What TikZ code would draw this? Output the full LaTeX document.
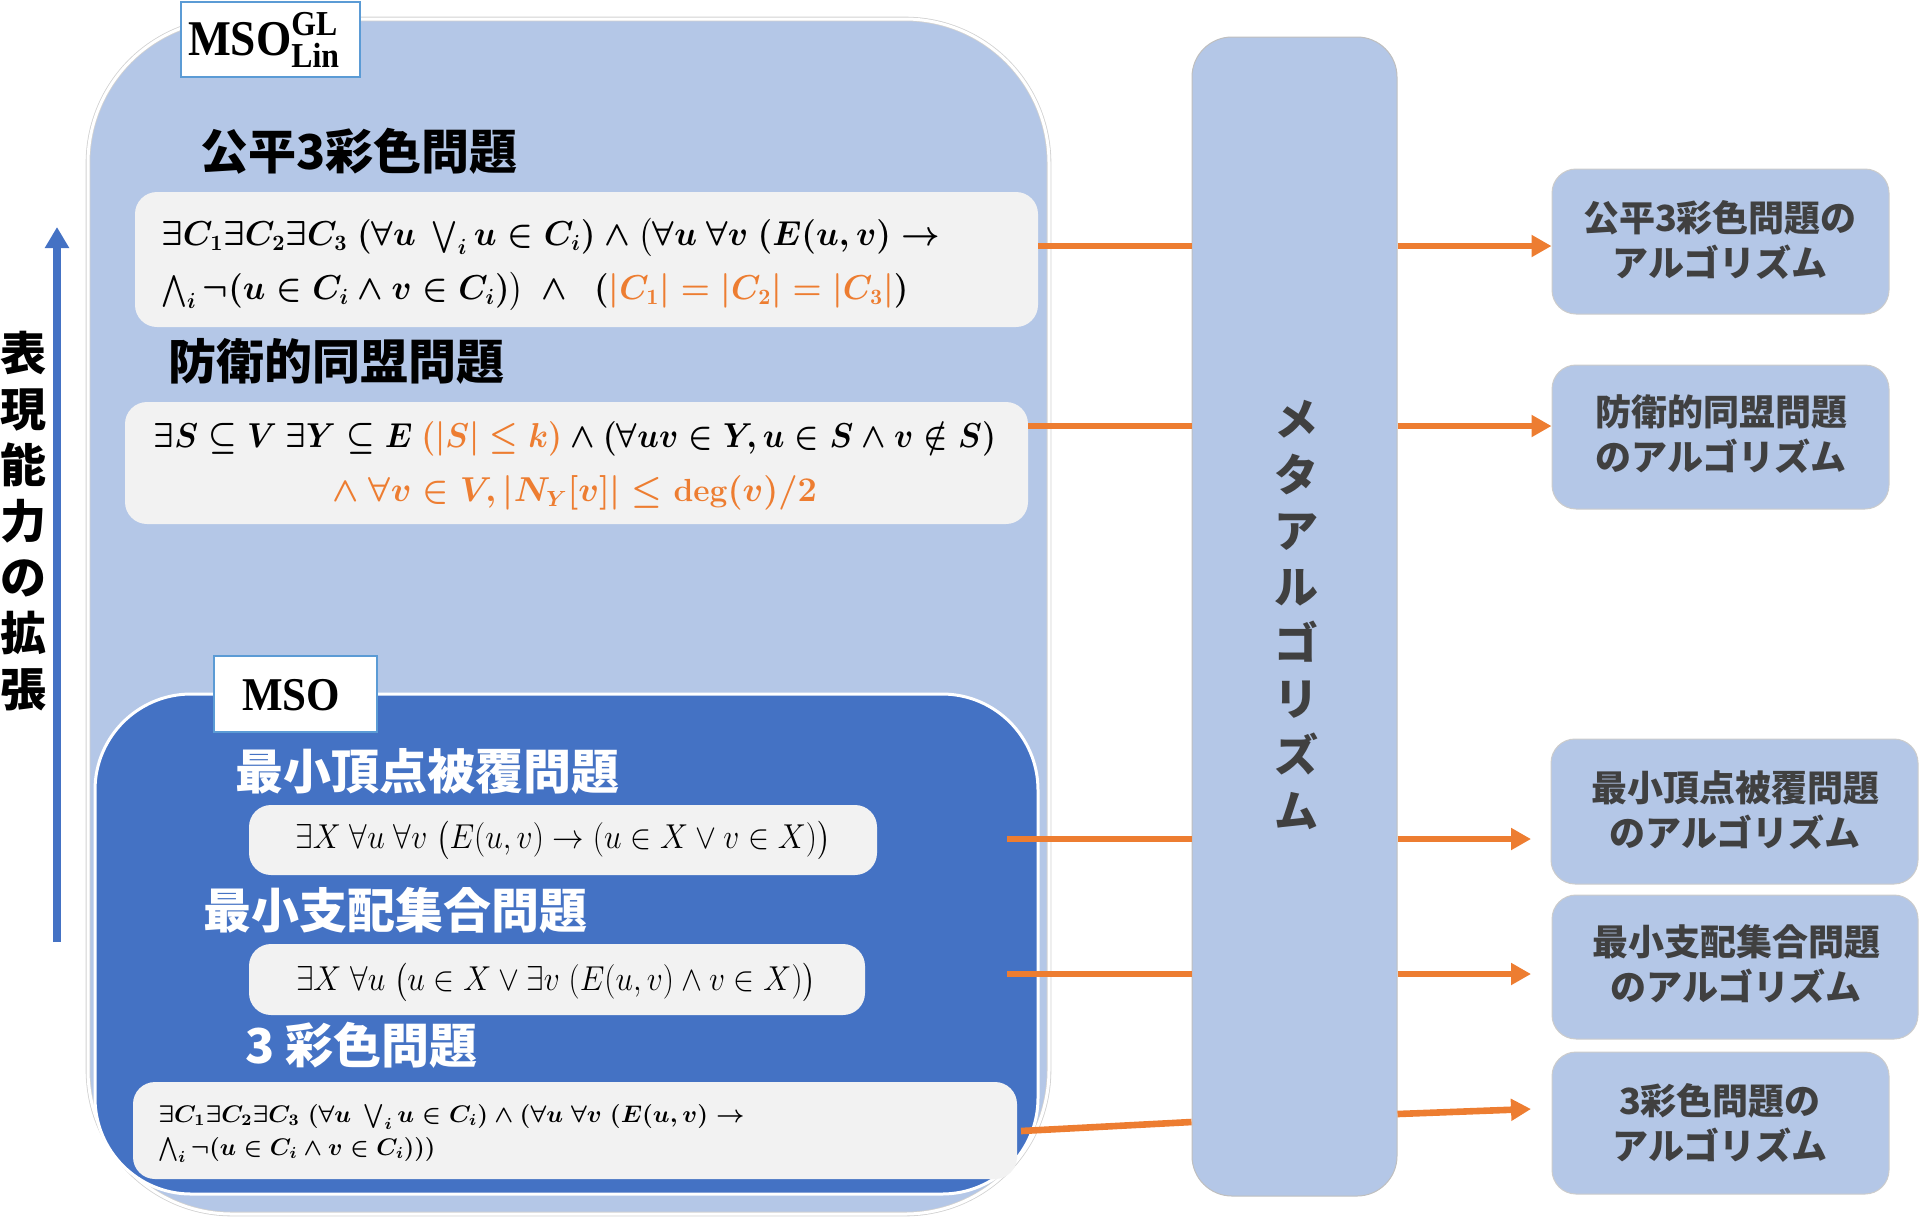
\documentclass[tikz,border=0pt]{standalone}
\usepackage{amsmath,amssymb}
\usepackage{graphicx}
\usepackage{fontspec}
\usetikzlibrary{arrows.meta,fit}
\newfontfamily\jp{Noto Sans CJK JP}
\newfontfamily\tagserif{Liberation Serif}
\definecolor{lblue}{HTML}{B4C7E7}
\definecolor{dblue}{HTML}{4472C4}
\definecolor{morange}{HTML}{ED7D31}
\definecolor{fgray}{HTML}{F2F2F2}
\definecolor{lbord}{HTML}{5B9BD5}
\definecolor{tgray}{HTML}{404040}
\newcommand\orn[1]{\textcolor{morange}{#1}}
\newcommand\fw[2]{\resizebox{#1}{\height}{#2}}
\begin{document}
\begin{tikzpicture}[x=0.5pt,y=-0.5pt,
  outerbox/.style={fill=lblue, draw=black!18, double=white, double distance=1.5pt, line width=0.4pt, rounded corners=72pt, inner sep=0pt},
  innerbox/.style={fill=dblue, draw=white, line width=1.5pt, rounded corners=48pt, inner sep=0pt},
  fbox/.style={fill=fgray, draw=none, rounded corners=11pt, inner sep=0pt},
  tagbox/.style={fill=white, draw=lbord, line width=1pt, inner sep=0pt},
  tagtext/.style={inner sep=0pt, font=\tagserif\bfseries\fontsize{25}{27}\selectfont},
  metabox/.style={fill=lblue, draw=black!25, line width=0.5pt, rounded corners=20pt, inner sep=0pt},
  metatext/.style={inner sep=0pt, align=center, text=tgray, font=\jp\bfseries\fontsize{22}{28}\selectfont},
  algbox/.style={fill=lblue, draw=black!20, line width=0.5pt, rounded corners=12pt, inner sep=0pt},
  algtext/.style={inner sep=0pt, align=center, text=tgray, font=\jp\bfseries\fontsize{18}{22.5}\selectfont},
  title/.style={anchor=west, inner sep=0pt, font=\jp\bfseries\fontsize{24}{28}\selectfont},
  ftext/.style={inner sep=0pt, font=\fontsize{16}{27}\selectfont\boldmath},
  vtext/.style={inner sep=0pt, align=center, font=\jp\bfseries\fontsize{23}{28}\selectfont},
  oline/.style={draw=morange, line width=3.3pt},
  oarrow/.style={oline, -{Triangle[length=10pt,width=10.5pt]}},
  uparrow/.style={draw=dblue, line width=4pt, -{Triangle[length=10.5pt,width=11.5pt]}}
]
\useasboundingbox (0,0) rectangle (1920,1217);

% outer MSO_Lin^GL region
\node[outerbox, fit={(88,19) (1049,1214)}] (outer) {};
\node[tagbox, fit={(181,2) (360,77)}] (tag1) {};
\node[tagtext] (tag1t) at (264,40) {\fw{76pt}{$\text{MSO}^{\text{GL}}_{\text{Lin}}$}};

\node[title] (h1) at (200,151) {公平3彩色問題};
\node[fbox, fit={(135,192) (1038,327)}] (f1) {};
\node[ftext, align=left, anchor=west] (t1) at (161,264)
 {\fw{389.5pt}{$\exists C_1\exists C_2\exists C_3\ (\forall u\ \bigvee\nolimits_i u\in C_i)\wedge\bigl(\forall u\ \forall v\ (E(u,v)\rightarrow$}\\
  \fw{373.5pt}{$\bigwedge\nolimits_i\neg(u\in C_i\wedge v\in C_i)\bigr)\ \wedge\ \ (\orn{|C_1|=|C_2|=|C_3|})$}};

\node[title] (h2) at (168,361) {防衛的同盟問題};
\node[fbox, fit={(125,402) (1028,524)}] (f2) {};
\node[ftext, align=center] (t2) at (575,466)
 {\fw{421pt}{$\exists S\subseteq V\ \exists Y\subseteq E\ \orn{(|S|\le k)}\wedge(\forall uv\in Y,u\in S\wedge v\notin S)$}\\
  \fw{242pt}{\orn{$\wedge\ \forall v\in V,|N_Y[v]|\le\operatorname{\textbf{deg}}(v)/2$}}};

% inner MSO region
\node[innerbox, fit={(95,694) (1038,1194)}] (inner) {};
\node[tagbox, fit={(214,656) (377,732)}] (tag2) {};
\node[tagtext, font=\tagserif\bfseries\fontsize{23.5}{26}\selectfont] (tag2t) at (291,695) {\fw{49pt}{MSO}};

\node[title, text=white] (h3) at (235,771) {最小頂点被覆問題};
\node[fbox, fit={(249,805) (877,875)}] (f3) {};
\node[ftext, font=\fontsize{16}{27}\selectfont\unboldmath] (t3) at (563,840)
 {\fw{267.5pt}{$\exists X\ \forall u\ \forall v\ \bigl(E(u,v)\rightarrow(u\in X\vee v\in X)\bigr)$}};

\node[title, text=white] (h4) at (203,910) {最小支配集合問題};
\node[fbox, fit={(249,944) (865,1015)}] (f4) {};
\node[ftext, font=\fontsize{16}{27}\selectfont\unboldmath] (t4) at (556,982)
 {\fw{260pt}{$\exists X\ \forall u\ \bigl(u\in X\vee\exists v\ (E(u,v)\wedge v\in X)\bigr)$}};

\node[title, text=white] (h5) at (245,1045) {3 彩色問題};
\node[fbox, fit={(133,1082) (1017,1179)}] (f5) {};
\node[ftext, font=\fontsize{12}{16.5}\selectfont\boldmath, align=left, anchor=west] (t5) at (158,1133)
 {\fw{293pt}{$\exists C_1\exists C_2\exists C_3\ (\forall u\ \bigvee\nolimits_i u\in C_i)\wedge(\forall u\ \forall v\ (E(u,v)\rightarrow$}\\
  \fw{138.5pt}{$\bigwedge\nolimits_i\neg(u\in C_i\wedge v\in C_i)))$}};

% left arrow and label
\coordinate (up0) at (57,942);
\coordinate (up1) at (57,227);
\draw[uparrow] (up0) -- (up1);
\node[vtext] (vl) at (23,521) {表\\現\\能\\力\\の\\拡\\張};

% meta algorithm
\node[metabox, fit={(1192,37) (1397,1196)}] (meta) {};
\node[metatext] (metat) at (1296,615) {メ\\タ\\ア\\ル\\ゴ\\リ\\ズ\\ム};

% algorithm boxes
\node[algbox, fit={(1552,169) (1889,314)}] (r1) {};
\node[algbox, fit={(1552,365) (1889,509)}] (r2) {};
\node[algbox, fit={(1551,739) (1918,884)}] (r3) {};
\node[algbox, fit={(1552,895) (1918,1039)}] (r4) {};
\node[algbox, fit={(1552,1052) (1889,1194)}] (r5) {};
\node[algtext] (r1t) at (1720,240) {公平3彩色問題の\\アルゴリズム};
\node[algtext] (r2t) at (1721,434) {防衛的同盟問題\\のアルゴリズム};
\node[algtext] (r3t) at (1735,810) {最小頂点被覆問題\\のアルゴリズム};
\node[algtext] (r4t) at (1736,964) {最小支配集合問題\\のアルゴリズム};
\node[algtext] (r5t) at (1720,1123) {3彩色問題の\\アルゴリズム};

% connectors
\coordinate (a1) at (0,246);
\coordinate (a2) at (0,426);
\draw[oline] (f1.east |- a1) -- (meta.west |- a1);
\draw[oarrow] (meta.east |- a1) -- (r1.west |- a1);
\draw[oline] (f2.east |- a2) -- (meta.west |- a2);
\draw[oarrow] (meta.east |- a2) -- (r2.west |- a2);

\coordinate (s3) at (1007,839);
\coordinate (e3) at (1531,839);
\draw[oline] (s3) -- (meta.west |- s3);
\draw[oarrow] (meta.east |- s3) -- (e3);

\coordinate (s4) at (1007,974);
\coordinate (e4) at (1531,974);
\draw[oline] (s4) -- (meta.west |- s4);
\draw[oarrow] (meta.east |- s4) -- (e4);

\coordinate (s5) at (1021,1131);
\coordinate (m5l) at (0,1122);
\coordinate (m5r) at (0,1114);
\coordinate (e5) at (1531,1109);
\draw[oline] (s5) -- (meta.west |- m5l);
\draw[oarrow] (meta.east |- m5r) -- (e5);
\end{tikzpicture}
\end{document}
